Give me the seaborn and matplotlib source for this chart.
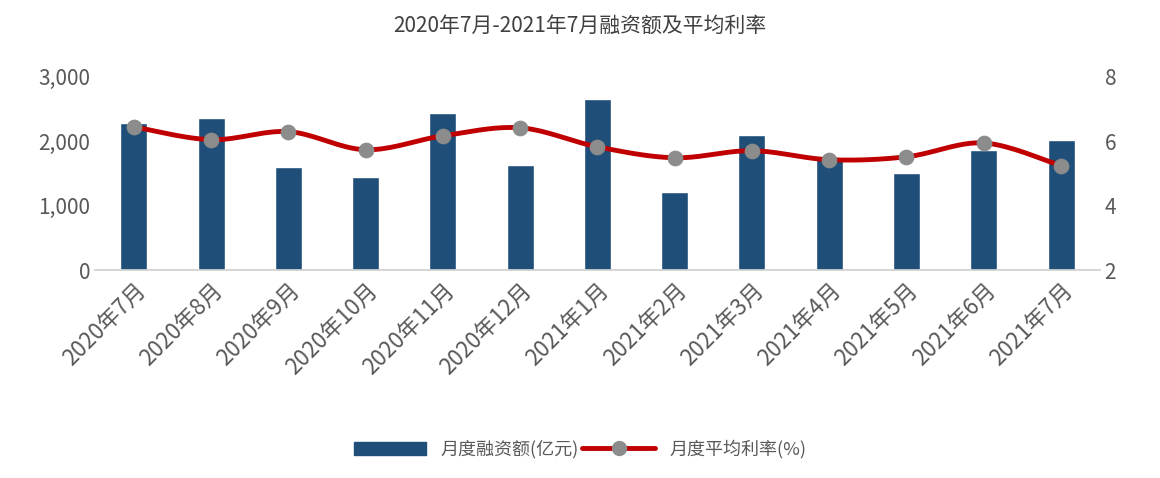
import numpy as np
import pandas as pd
import matplotlib
matplotlib.use("Agg")
import matplotlib.pyplot as plt
import seaborn as sns

months = ["2020年7月","2020年8月","2020年9月","2020年10月","2020年11月","2020年12月",
          "2021年1月","2021年2月","2021年3月","2021年4月","2021年5月","2021年6月","2021年7月"]
amount = [2280, 2350, 1600, 1440, 2440, 1630, 2650, 1210, 2100, 1720, 1500, 1860, 2020]
rate = [6.44, 6.04, 6.29, 5.73, 6.16, 6.41, 5.82, 5.48, 5.70, 5.42, 5.51, 5.94, 5.23]

sns.set_theme(style="white")
plt.rcParams['font.family'] = ['Noto Sans CJK SC', 'DejaVu Sans']

fig = plt.figure(figsize=(11.6, 4.78), dpi=100)
ax = fig.add_axes([0.082, 0.435, 0.866, 0.405])
df = pd.DataFrame({"m": months, "v": amount})
sns.barplot(data=df, x="m", y="v", ax=ax, color="#1f4e79", width=0.35, saturation=1)
ax.set_ylim(0, 3000)
ax.set_yticks([0, 1000, 2000, 3000])
ax.set_yticklabels(["0", "1,000", "2,000", "3,000"])
ax.set_xlabel(""); ax.set_ylabel("")
ax.set_xlim(-0.5, len(months) - 0.5)
for s in ["top", "left", "right"]:
    ax.spines[s].set_visible(False)
ax.spines["bottom"].set_color("#d0d0d0")
ax.tick_params(axis="y", labelsize=15, colors="#595959", length=0)
ax.tick_params(axis="x", labelsize=16, colors="#595959", length=0, pad=6)
plt.setp(ax.get_xticklabels(), rotation=45, ha="right", rotation_mode="anchor")
if ax.get_legend() is not None:
    ax.get_legend().remove()

ax2 = ax.twinx()
x = np.arange(len(rate)); y = np.array(rate)
# Catmull-Rom smoothing for drawing only
xs, ys = [], []
P = np.vstack([np.r_[x[0], x, x[-1]], np.r_[y[0], y, y[-1]]]).T
for i in range(1, len(P) - 2):
    p0, p1, p2, p3 = P[i-1], P[i], P[i+1], P[i+2]
    t = np.linspace(0, 1, 20)[:, None]
    c = 0.5 * ((2*p1) + (-p0+p2)*t + (2*p0-5*p1+4*p2-p3)*t**2 + (-p0+3*p1-3*p2+p3)*t**3)
    xs.extend(c[:, 0]); ys.extend(c[:, 1])
ax2.plot(xs, ys, color="#c00000", lw=3.5, zorder=3)
sns.scatterplot(x=x, y=y, ax=ax2, color="#8c8c8c", s=110, zorder=4, edgecolor="#8c8c8c", legend=False)
ax2.set_ylim(2, 8)
ax2.set_yticks([2, 4, 6, 8])
ax2.tick_params(axis="y", labelsize=15, colors="#595959", length=0)
for s in ["top", "left", "right", "bottom"]:
    ax2.spines[s].set_visible(False)
ax2.grid(False); ax.grid(False)

from matplotlib.lines import Line2D
from matplotlib.patches import Patch
handles = [Patch(color="#1f4e79", label="月度融资额(亿元)"),
           Line2D([], [], color="#c00000", lw=3.5, marker="o", markersize=10,
                  markerfacecolor="#8c8c8c", markeredgecolor="#8c8c8c", label="月度平均利率(%)")]
fig.legend(handles=handles, loc="center", bbox_to_anchor=(0.5, 0.06), ncol=2, frameon=False,
           fontsize=13, labelcolor="#595959", handlelength=4, columnspacing=0.2)
fig.suptitle("2020年7月-2021年7月融资额及平均利率", y=0.97, fontsize=15, color="#404040")
fig.savefig("out.png", dpi=100)
